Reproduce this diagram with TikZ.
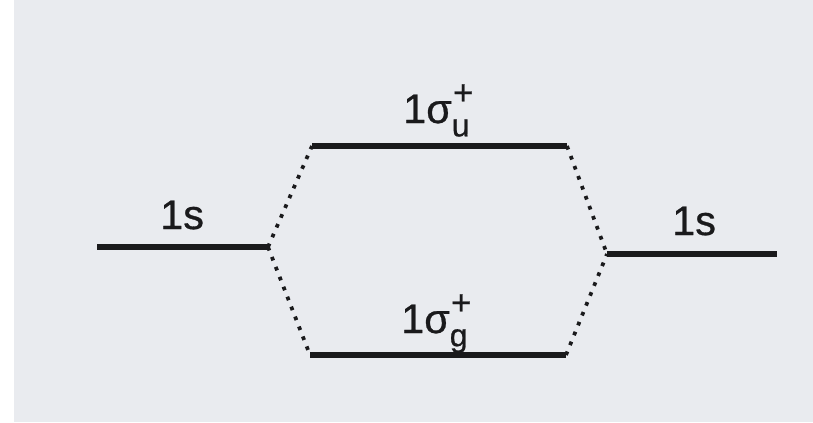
\documentclass[tikz,border=0pt]{standalone}
\usepackage{fontspec}
\setmainfont{Liberation Sans}
\newfontfamily\lblfont[FakeBold=0.7]{Liberation Sans}
\usepackage{tikz}
\definecolor{ink}{HTML}{1A1A1C}
\definecolor{paper}{HTML}{E9EBEF}
\newcommand{\moorb}[1]{1σ\rlap{\kern1pt\raisebox{14pt}{\fontsize{26}{26}\selectfont+}}\raisebox{-10pt}{\fontsize{24}{24}\selectfont #1}}

\begin{document}
\begin{tikzpicture}[x=0.75pt,y=-0.75pt,
  level/.style={line width=4pt,color=ink},
  link/.style={line width=2.8pt,color=ink,dash pattern=on 2.8pt off 5.2pt},
  lbl/.style={anchor=base west,inner sep=0pt,text=ink,font=\lblfont\fontsize{31}{33}\selectfont}
]
\fill[paper] (0,0) rectangle (813,422);
\fill[white] (0,0) rectangle (14,422);
\useasboundingbox (0,0) rectangle (813,422);
% level end points
\coordinate (aL) at (97,247);
\coordinate (aR) at (268,247);
\coordinate (uL) at (312,146);
\coordinate (uR) at (567,146);
\coordinate (gL) at (310,355);
\coordinate (gR) at (566,355);
\coordinate (bL) at (607,254);
\coordinate (bR) at (777,254);
% levels
\draw[level] (aL) -- (aR);
\draw[level] (uL) -- (uR);
\draw[level] (gL) -- (gR);
\draw[level] (bL) -- (bR);
% correlation lines
\draw[link] (aR) -- (uL);
\draw[link] (aR) -- (gL);
\draw[link] (uR) -- (bL);
\draw[link] (gR) -- (bL);
% labels
\node[lbl] (sA) at (160,229) {1s};
\node[lbl] (sB) at (672,235) {1s};
\node[lbl] (sigu) at (403,123) {\moorb{u}};
\node[lbl] (sigg) at (401,333) {\moorb{g}};
\end{tikzpicture}
\end{document}
